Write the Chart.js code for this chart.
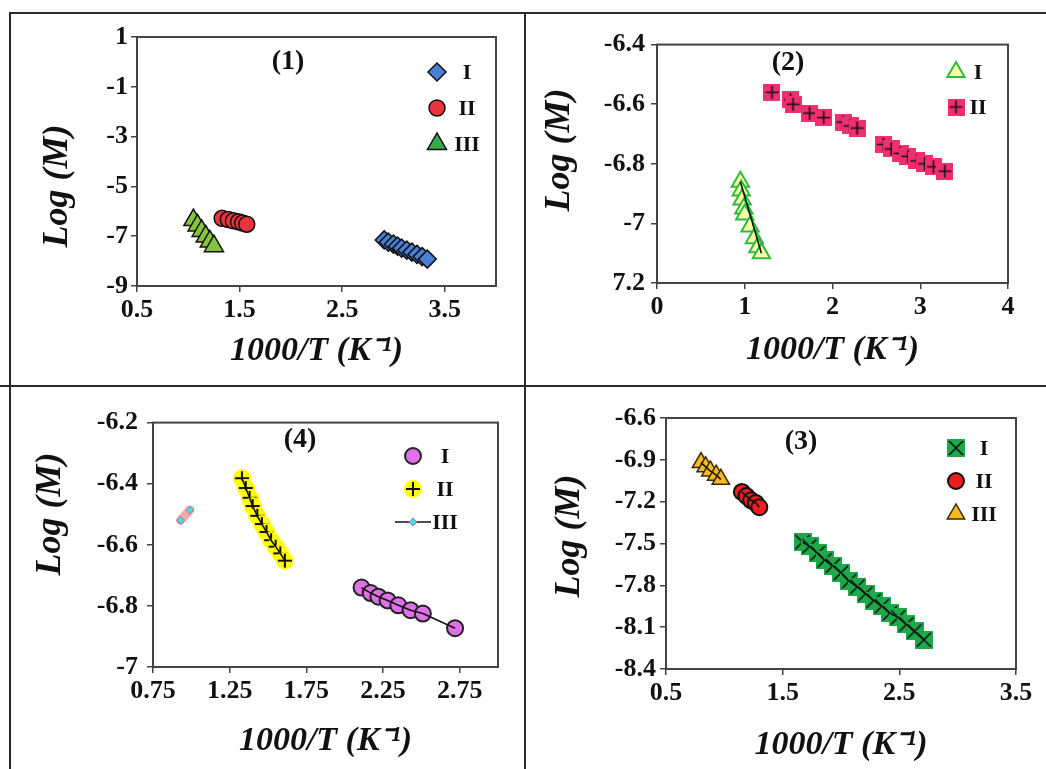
<!DOCTYPE html>
<html>
<head>
<meta charset="utf-8">
<script src="https://cdn.jsdelivr.net/npm/chart.js@4.4.0/dist/chart.umd.min.js"></script>
<style>
  html, body { margin: 0; padding: 0; background: #fff; }
  #page { position: relative; width: 1046px; height: 769px; overflow: hidden; background: #fff; }
  .rule { position: absolute; background: #2a2a2a; }
  canvas { position: absolute; }
</style>
</head>
<body>
<div id="page">
  <div class="rule" style="left:9px;top:12px;width:1037px;height:2px"></div>
  <div class="rule" style="left:9px;top:12px;width:2px;height:757px"></div>
  <div class="rule" style="left:524px;top:12px;width:2px;height:757px"></div>
  <div class="rule" style="left:0;top:385px;width:1046px;height:2px"></div>
  <canvas id="c1"></canvas>
  <canvas id="c2"></canvas>
  <canvas id="c4"></canvas>
  <canvas id="c3"></canvas>
</div>
<script>
// ---- panel (1) ----
var p1XTicks = [0.5, 1.5, 2.5, 3.5];
var p1XLabels = ['0.5', '1.5', '2.5', '3.5'];
var p1YTicks = [-9, -7, -5, -3, -1, 1];
var p1YLabels = ['-9', '-7', '-5', '-3', '-1', '1'];
var p1_I_x = [2.91, 2.95, 3.00, 3.04, 3.08, 3.13, 3.18, 3.23, 3.28, 3.33];
var p1_I_y = [-7.15, -7.24, -7.32, -7.40, -7.48, -7.56, -7.64, -7.73, -7.82, -7.92];
var p1_II_x = [1.33, 1.39, 1.44, 1.49, 1.53, 1.57];
var p1_II_y = [-6.28, -6.33, -6.38, -6.42, -6.47, -6.52];
var p1_III_x = [1.05, 1.09, 1.13, 1.17, 1.21, 1.25];
var p1_III_y = [-6.35, -6.57, -6.79, -7.01, -7.21, -7.40];

// ---- panel (2) ----
var p2XTicks = [0, 1, 2, 3, 4];
var p2XLabels = ['0', '1', '2', '3', '4'];
var p2YTicks = [-7.2, -7.0, -6.8, -6.6, -6.4];
var p2YLabels = ['7.2', '-7', '-6.8', '-6.6', '-6.4'];
var p2_I_x = [0.95, 0.96, 0.97, 0.99, 1.00, 1.06, 1.11, 1.15, 1.19];
var p2_I_y = [-6.86, -6.89, -6.92, -6.95, -6.97, -7.01, -7.05, -7.08, -7.10];
var p2_II_x = [1.31, 1.52, 1.55, 1.74, 1.90, 2.12, 2.20, 2.28, 2.58, 2.67, 2.77, 2.86, 2.96, 3.05, 3.15, 3.28];
var p2_II_y = [-6.56, -6.585, -6.60, -6.63, -6.645, -6.66, -6.673, -6.68, -6.735, -6.75, -6.765, -6.775, -6.79, -6.80, -6.81, -6.825];

// ---- panel (4) ----
var p4XTicks = [0.75, 1.25, 1.75, 2.25, 2.75];
var p4XLabels = ['0.75', '1.25', '1.75', '2.25', '2.75'];
var p4YTicks = [-7.0, -6.8, -6.6, -6.4, -6.2];
var p4YLabels = ['-7', '-6.8', '-6.6', '-6.4', '-6.2'];
var p4_I_x = [2.11, 2.17, 2.22, 2.28, 2.35, 2.43, 2.51, 2.72];
var p4_I_y = [-6.74, -6.758, -6.77, -6.782, -6.798, -6.814, -6.825, -6.873];
var p4_II_x = [1.33, 1.355, 1.38, 1.40, 1.43, 1.46, 1.49, 1.52, 1.55, 1.58, 1.61];
var p4_II_y = [-6.382, -6.414, -6.446, -6.473, -6.505, -6.532, -6.558, -6.585, -6.606, -6.628, -6.652];
var p4_III_x = [0.93, 0.99];
var p4_III_y = [-6.52, -6.486];

// ---- panel (3) ----
var p3XTicks = [0.5, 1.5, 2.5, 3.5];
var p3XLabels = ['0.5', '1.5', '2.5', '3.5'];
var p3YTicks = [-8.4, -8.1, -7.8, -7.5, -7.2, -6.9, -6.6];
var p3YLabels = ['-8.4', '-8.1', '-7.8', '-7.5', '-7.2', '-6.9', '-6.6'];
var p3_I_x = [1.67, 1.73, 1.80, 1.86, 1.93, 2.00, 2.07, 2.14, 2.21, 2.28, 2.35, 2.42, 2.49, 2.56, 2.63, 2.71];
var p3_I_y = [-7.49, -7.52, -7.57, -7.62, -7.66, -7.71, -7.77, -7.81, -7.86, -7.91, -7.95, -8.00, -8.03, -8.08, -8.13, -8.19];
var p3_II_x = [1.15, 1.19, 1.23, 1.27, 1.30];
var p3_II_y = [-7.13, -7.16, -7.19, -7.21, -7.24];
var p3_III_x = [0.80, 0.84, 0.88, 0.93, 0.97];
var p3_III_y = [-6.92, -6.95, -6.98, -7.01, -7.04];

var tickFont = { family: 'Liberation Serif', size: 26, weight: 'bold' };
var titleFont = { family: 'Liberation Serif', size: 34, weight: 'bold', style: 'italic', lineHeight: 1.2 };
var axisColor = '#444';

function pts(xs, ys) {
    return xs.map(function (x, i) { return { x: x, y: ys[i] }; });
}

// composite markers drawn once on small canvases
function squareMark(fill, size, kind) {
    var c = document.createElement('canvas');
    c.width = c.height = size;
    var g = c.getContext('2d');
    g.fillStyle = fill;
    g.fillRect(0, 0, size, size);
    g.strokeStyle = '#111';
    g.lineWidth = 1.6;
    g.beginPath();
    if (kind === 'x') {
        g.moveTo(2, 2); g.lineTo(size - 2, size - 2);
        g.moveTo(size - 2, 2); g.lineTo(2, size - 2);
    } else {
        g.moveTo(size / 2, 2); g.lineTo(size / 2, size - 2);
        g.moveTo(2, size / 2); g.lineTo(size - 2, size / 2);
    }
    g.stroke();
    return c;
}

function dotPlus(fill, size) {
    var c = document.createElement('canvas');
    c.width = c.height = size;
    var g = c.getContext('2d');
    g.fillStyle = fill;
    g.beginPath();
    g.arc(size / 2, size / 2, size / 2, 0, Math.PI * 2);
    g.fill();
    g.strokeStyle = '#111';
    g.lineWidth = 2;
    g.beginPath();
    g.moveTo(size / 2, 2); g.lineTo(size / 2, size - 2);
    g.moveTo(2, size / 2); g.lineTo(size - 2, size / 2);
    g.stroke();
    return c;
}

function marks(label, xs, ys, style, radius, fill, border, bw) {
    return {
        label: label, data: pts(xs, ys), showLine: false,
        pointStyle: style, pointRadius: radius,
        pointBackgroundColor: fill, pointBorderColor: border, pointBorderWidth: bw
    };
}

// black line drawn over the markers
function blackLine(xs, ys) {
    return {
        data: pts(xs, ys), showLine: true, pointRadius: 0,
        borderColor: '#111', borderWidth: 1.6, order: -1
    };
}

function drawMark(ctx, ds, x, y) {
    var st = ds.pointStyle;
    if (typeof st === 'object') {
        ctx.drawImage(st, x - st.width / 2, y - st.height / 2);
        return;
    }
    var r = ds.pointRadius;
    ctx.fillStyle = ds.legendFill || ds.pointBackgroundColor;
    ctx.strokeStyle = ds.pointBorderColor;
    ctx.lineWidth = ds.pointBorderWidth;
    ctx.beginPath();
    if (st === 'circle') {
        ctx.arc(x, y, r, 0, Math.PI * 2);
    } else if (st === 'triangle') {
        ctx.moveTo(x, y - r);
        ctx.lineTo(x + r * 0.866, y + r * 0.5);
        ctx.lineTo(x - r * 0.866, y + r * 0.5);
    } else if (st === 'rectRot') {
        ctx.moveTo(x - r, y); ctx.lineTo(x, y - r);
        ctx.lineTo(x + r, y); ctx.lineTo(x, y + r);
    }
    ctx.closePath();
    ctx.fill();
    if (ds.pointBorderWidth) ctx.stroke();
}

// plot frame, panel tag, y title and inline legend
var panelText = {
    id: 'panelText',
    beforeDatasetsDraw: function (chart) {
        var a = chart.chartArea, ctx = chart.ctx;
        ctx.save();
        ctx.strokeStyle = axisColor;
        ctx.lineWidth = 2;
        ctx.strokeRect(a.left, a.top, a.right - a.left, a.bottom - a.top);
        ctx.restore();
    },
    afterDraw: function (chart, args, o) {
        var ctx = chart.ctx, ox = o.origin[0], oy = o.origin[1];
        ctx.save();
        ctx.fillStyle = '#111';
        ctx.textAlign = 'center';
        ctx.textBaseline = 'middle';
        ctx.font = 'bold 28px "Liberation Serif"';
        ctx.fillText(o.tag[0], o.tag[1] - ox, o.tag[2] - oy);

        ctx.font = 'bold 22px "Liberation Serif"';
        var k = 0;
        chart.data.datasets.forEach(function (ds) {
            if (!ds.label) return;
            var y = o.legend.y0 + k * o.legend.step - oy;
            var mx = o.legend.mx - ox;
            if (ds.legendLine) {
                ctx.strokeStyle = '#111';
                ctx.lineWidth = 1.5;
                ctx.beginPath();
                ctx.moveTo(mx - 18, y); ctx.lineTo(mx + 18, y);
                ctx.stroke();
            }
            drawMark(ctx, ds, mx, y);
            ctx.fillStyle = '#111';
            ctx.fillText(ds.label, o.legend.lx - ox, y + 1);
            k++;
        });

        ctx.translate(o.yTitle[0] - ox, o.yTitle[1] - oy);
        ctx.rotate(-Math.PI / 2);
        ctx.font = 'italic bold 36px "Liberation Serif"';
        ctx.fillText('Log (M)', 0, 0);
        ctx.restore();
    }
};

function xAxis(min, max, ticks, labels, h) {
    return {
        type: 'linear', min: min, max: max,
        afterBuildTicks: function (s) { s.ticks = ticks.map(function (v) { return { value: v }; }); },
        afterFit: function (s) { s.height = h; },
        ticks: {
            callback: function (v, i) { return labels[i]; },
            font: tickFont, color: '#111', padding: 3, maxRotation: 0, autoSkip: false
        },
        grid: { drawOnChartArea: false, drawTicks: true, tickLength: 6, color: axisColor, lineWidth: 1.5 },
        border: { display: true, color: axisColor, width: 2 },
        title: { display: true, text: '1000/T (K⁻¹)', font: titleFont, color: '#111', padding: 0 }
    };
}

function yAxis(min, max, ticks, labels, pad, w) {
    return {
        type: 'linear', min: min, max: max,
        afterBuildTicks: function (s) { s.ticks = ticks.map(function (v) { return { value: v }; }); },
        afterFit: function (s) { s.width = w; },
        ticks: {
            callback: function (v, i) { return labels[i]; },
            font: tickFont, color: '#111', padding: pad, autoSkip: false
        },
        grid: { drawOnChartArea: false, drawTicks: true, tickLength: 6, color: axisColor, lineWidth: 1.5 },
        border: { display: true, color: axisColor, width: 2 }
    };
}

function makeChart(id, box, datasets, x, y, text) {
    var cv = document.getElementById(id);
    cv.width = box[2];
    cv.height = box[3];
    cv.style.left = box[0] + 'px';
    cv.style.top = box[1] + 'px';
    text.origin = [box[0], box[1]];
    return new Chart(cv, {
        type: 'scatter',
        data: { datasets: datasets },
        options: {
            responsive: false, animation: false, devicePixelRatio: 1,
            layout: { padding: { top: 20, right: 30, left: 0, bottom: 0 } },
            plugins: { legend: { display: false }, tooltip: { enabled: false }, panelText: text },
            scales: { x: x, y: y }
        },
        plugins: [panelText]
    });
}

document.addEventListener('DOMContentLoaded', function () {
    makeChart('c1', [17, 17, 509, 355], [
        marks('I', p1_I_x, p1_I_y, 'rectRot', 9, '#4a7fd8', '#111', 1.5),
        marks('II', p1_II_x, p1_II_y, 'circle', 8, '#e8343c', '#111', 1.5),
        Object.assign(marks('III', p1_III_x, p1_III_y, 'triangle', 11, '#86c440', '#111', 1.5), { legendFill: '#3aa845' })
    ], xAxis(0.5, 4, p1XTicks, p1XLabels, 86), yAxis(-9, 1, p1YTicks, p1YLabels, 3, 120),
    { tag: ['(1)', 288, 62], yTitle: [58, 186], legend: { mx: 437, lx: 467, y0: 72, step: 36 } });

    makeChart('c2', [532, 23, 506, 348], [
        marks('I', p2_I_x, p2_I_y, 'triangle', 10, '#ffffa8', '#2dbb3f', 2),
        marks('II', p2_II_x, p2_II_y, squareMark('#f0306e', 17, '+'), 9, '#f0306e', '#f0306e', 0),
        blackLine([p2_I_x[0], p2_I_x[p2_I_x.length - 1]], [p2_I_y[0], p2_I_y[p2_I_y.length - 1]])
    ], xAxis(0, 4, p2XTicks, p2XLabels, 88), yAxis(-7.2, -6.4, p2YTicks, p2YLabels, 6, 125),
    { tag: ['(2)', 788, 63], yTitle: [560, 150], legend: { mx: 956, lx: 978, y0: 72, step: 35 } });

    makeChart('c4', [18, 398, 510, 364], [
        marks('I', p4_I_x, p4_I_y, 'circle', 8, '#e070e6', '#222', 2),
        marks('II', p4_II_x, p4_II_y, dotPlus('#ffff00', 18), 9, '#ffff00', '#ffff00', 0),
        Object.assign(marks('III', p4_III_x, p4_III_y, 'rectRot', 4, '#40e0e8', '#e06090', 1), {
            showLine: true, borderColor: '#f2aaaa', borderWidth: 9, borderCapStyle: 'round', legendLine: true
        }),
        blackLine(p4_I_x, p4_I_y),
        blackLine(p4_II_x, p4_II_y)
    ], xAxis(0.75, 3.0, p4XTicks, p4XLabels, 95), yAxis(-7, -6.2, p4YTicks, p4YLabels, 9, 135),
    { tag: ['(4)', 300, 440], yTitle: [51, 514], legend: { mx: 413, lx: 445, y0: 456, step: 33 } });

    makeChart('c3', [536, 398, 510, 368], [
        marks('I', p3_I_x, p3_I_y, squareMark('#1ea84a', 18, 'x'), 9, '#1ea84a', '#1ea84a', 0),
        marks('II', p3_II_x, p3_II_y, 'circle', 8, '#ee1c1c', '#111', 2),
        marks('III', p3_III_x, p3_III_y, 'triangle', 10, '#f5b921', '#3a2a00', 1.5),
        blackLine(p3_I_x, p3_I_y),
        blackLine(p3_II_x, p3_II_y),
        blackLine(p3_III_x, p3_III_y)
    ], xAxis(0.5, 3.5, p3XTicks, p3XLabels, 97), yAxis(-8.4, -6.6, p3YTicks, p3YLabels, 4, 130),
    { tag: ['(3)', 801, 442], yTitle: [570, 536], legend: { mx: 956, lx: 984, y0: 448, step: 33 } });
});
</script>
</body>
</html>
